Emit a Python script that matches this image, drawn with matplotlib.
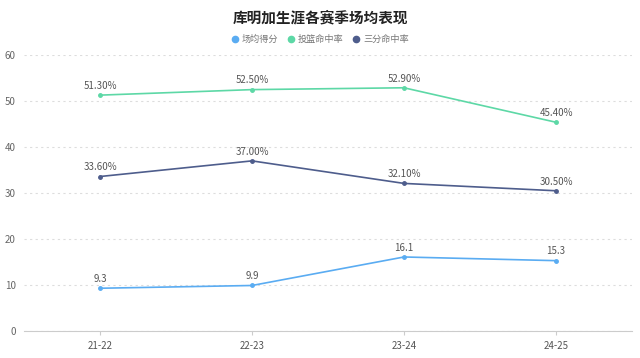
import matplotlib
matplotlib.use('Agg')
import matplotlib.pyplot as plt
from matplotlib.lines import Line2D

plt.rcParams['font.family'] = ['Noto Sans CJK SC', 'DejaVu Sans']

seasons = ['21-22', '22-23', '23-24', '24-25']
ppg = [9.3, 9.9, 16.1, 15.3]          # 场均得分
fg_pct = [51.3, 52.5, 52.9, 45.4]     # 投篮命中率
tp_pct = [33.6, 37.0, 32.1, 30.5]     # 三分命中率

names = ['场均得分', '投篮命中率', '三分命中率']
colors = ['#5aacf2', '#5dd8a6', '#4e5d8c']

fig = plt.figure(figsize=(6.4, 3.58), dpi=100)
ax = fig.add_axes([0.0375, 0.0754, 0.95, 0.7706])

x = list(range(len(seasons)))
series = [ppg, fg_pct, tp_pct]
fmts = ['{:.1f}', '{:.2f}%', '{:.2f}%']
for vals, c, f in zip(series, colors, fmts):
    ax.plot(x, vals, color=c, lw=1.2, marker='o', ms=2.5, zorder=3)
    for xi, v in zip(x, vals):
        ax.annotate(f.format(v), (xi, v), xytext=(0, 3), textcoords='offset points',
                    ha='center', va='bottom', fontsize=7, color='#555555')

ax.set_xlim(-0.5, 3.5)
ax.set_ylim(0, 60)
ax.set_yticks(range(0, 61, 10))
ax.set_xticks(x)
ax.set_xticklabels(seasons)
ax.yaxis.grid(True, linestyle=(0, (2, 3)), color='#dddddd', lw=0.8)
ax.set_axisbelow(True)
for s in ['top', 'right', 'left']:
    ax.spines[s].set_visible(False)
ax.spines['bottom'].set_color('#cccccc')
ax.tick_params(axis='y', length=0, labelsize=7, colors='#666666', pad=6)
ax.tick_params(axis='x', length=3, color='#cccccc', labelsize=7, labelcolor='#555555', pad=4)

fig.text(0.5, 0.952, '库明加生涯各赛季场均表现', ha='center', va='center',
         fontsize=10.5, fontweight='bold', color='#222222')

handles = [Line2D([], [], marker='o', ls='none', color=c, ms=4.5) for c in colors]
fig.legend(handles, names, loc='center', bbox_to_anchor=(0.5, 0.89), ncol=3,
           frameon=False, fontsize=6.6, handlelength=0.8, handletextpad=0.35,
           columnspacing=1.0, labelcolor='#777777')

fig.savefig('out.png', dpi=100)
